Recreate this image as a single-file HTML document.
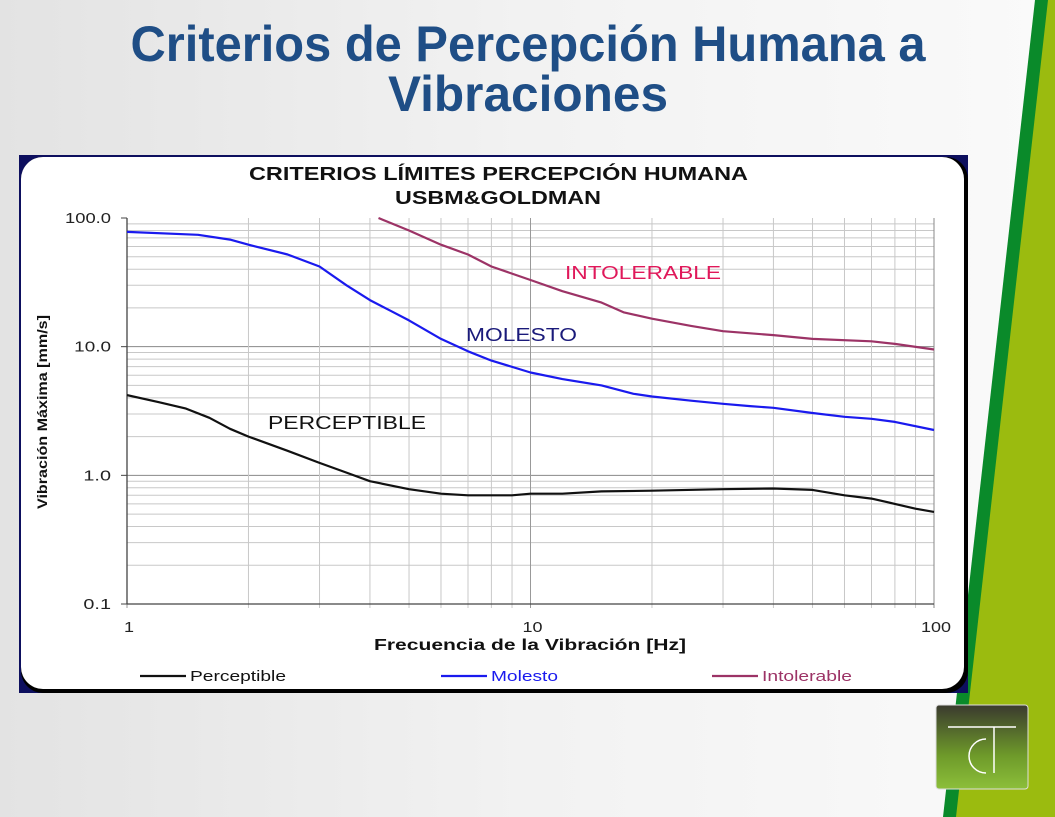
<!DOCTYPE html>
<html><head><meta charset="utf-8"><style>
html,body{margin:0;padding:0;width:1055px;height:817px;overflow:hidden;font-family:"Liberation Sans",sans-serif;}
body{background:linear-gradient(90deg,#e3e3e3 0%,#f2f2f2 50%,#fafafa 100%);}
</style></head><body>
<svg width="1055" height="817" viewBox="0 0 1055 817" xmlns="http://www.w3.org/2000/svg">
<polygon points="1035,0 1055,0 1055,817 943,817" fill="#0a8a2a"/>
<polygon points="1048,0 1055,0 1055,817 956,817" fill="#9bbb0f"/>
<g font-family="'Liberation Sans',sans-serif" font-weight="bold" font-size="50" fill="#1f4e86" text-anchor="middle">
<text x="528" y="61" textLength="795" lengthAdjust="spacingAndGlyphs">Criterios de Percepción Humana a</text>
<text x="528" y="111" textLength="280" lengthAdjust="spacingAndGlyphs">Vibraciones</text>
</g>
<rect x="19" y="155" width="949" height="538" fill="#0d0f5e"/>
<rect x="21" y="157" width="947" height="536" rx="22" fill="#000"/>
<rect x="21" y="157" width="943" height="532" rx="22" fill="#fff"/>
<g id="chart"></g>
<g>
<defs><linearGradient id="lg" x1="0" y1="0" x2="0" y2="1"><stop offset="0" stop-color="#3a3a2e"/><stop offset="0.6" stop-color="#6e9a2a"/><stop offset="1" stop-color="#8cbf3a"/></linearGradient></defs>
<rect x="936" y="705" width="92" height="84" rx="3" fill="url(#lg)" stroke="#ddd" stroke-width="1"/>
<line x1="948" y1="727" x2="1016" y2="727" stroke="#fff" stroke-width="1.5"/>
<line x1="994" y1="727" x2="994" y2="773" stroke="#fff" stroke-width="1.5"/>
<path d="M986,739 A17,17 0 1 0 986,773" fill="none" stroke="#fff" stroke-width="1.5"/>
</g>
</svg>
<script>
const yTicks=[0.1,1,10,100];
const yTickLabels=["0.1","1.0","10.0","100.0"];
const xTicks=[1,10,100];
const xTickLabels=["1","10","100"];
const percFreq=[1,1.2,1.4,1.6,1.8,2,2.5,3,3.5,4,5,6,7,9,10,12,15,20,30,40,50,60,70,80,90,100];
const percVal=[4.2,3.7,3.3,2.8,2.3,2.0,1.55,1.25,1.05,0.9,0.78,0.72,0.7,0.7,0.72,0.72,0.75,0.76,0.78,0.79,0.77,0.7,0.66,0.6,0.55,0.52];
const molFreq=[1,1.5,1.8,2,2.5,3,3.5,4,4.5,5,6,7,8,10,12,15,18,20,25,30,35,40,50,60,70,80,100];
const molVal=[78,74,68,62,52,42,30,23,19,16,11.5,9.2,7.8,6.3,5.6,5.0,4.3,4.1,3.8,3.6,3.45,3.35,3.05,2.85,2.75,2.6,2.25];
const intFreq=[4.2,5,6,7,8,10,12,15,17,20,25,30,40,50,70,80,100];
const intVal=[100,80,62,52,42,33,27,22,18.5,16.5,14.5,13.2,12.3,11.5,11,10.5,9.5];
const NS="http://www.w3.org/2000/svg";
const X0=127,X1=934,Y0=604,Y1=218;
function xs(f){return X0+(Math.log10(f)-0)/2*(X1-X0);}
function ys(v){return Y0-(Math.log10(v)+1)/3*(Y0-Y1);}
const g=document.getElementById('chart');
function mk(t,a,txt){const e=document.createElementNS(NS,t);for(const k in a)e.setAttribute(k,a[k]);if(txt!==undefined)e.textContent=txt;g.appendChild(e);return e;}
for(let d=-1;d<2;d++)for(let m=1;m<10;m++){const v=m*Math.pow(10,d);const y=ys(v);
const l=mk('line',{x1:X0,x2:X1,y1:y,y2:y,stroke:m===1?'#888':'#c8c8c8','stroke-width':1});

}
for(let d=0;d<2;d++)for(let m=1;m<10;m++){const f=m*Math.pow(10,d);const x=xs(f);
const l=mk('line',{x1:x,x2:x,y1:Y1,y2:Y0+4,stroke:m===1?'#999':'#c8c8c8','stroke-width':1});

}
mk('line',{x1:X1,x2:X1,y1:Y1,y2:Y0+4,stroke:'#888'});
mk('line',{x1:X0,x2:X0,y1:Y1,y2:Y0,stroke:'#444','stroke-width':1.3});
mk('line',{x1:X0,x2:X1,y1:Y0,y2:Y0,stroke:'#444','stroke-width':1.3});
yTicks.forEach((v,i)=>{const y=ys(v);mk('line',{x1:X0-6,x2:X0,y1:y,y2:y,stroke:'#444'});
const t=mk('text',{x:X0-16,y:y+5,'text-anchor':'end','font-size':15,fill:'#222',textLength:yTickLabels[i].length*9.2,lengthAdjust:'spacingAndGlyphs'},yTickLabels[i]);

});
xTicks.forEach((v,i)=>{const t=mk('text',{x:xs(v)+2,y:Y0+28,'text-anchor':'middle','font-size':15,fill:'#222',textLength:xTickLabels[i].length*10,lengthAdjust:'spacingAndGlyphs'},xTickLabels[i]);

});
function series(fr,vals,col,name){const d=fr.map((f,i)=>(i?'L':'M')+xs(f).toFixed(1)+','+ys(vals[i]).toFixed(1)).join(' ');
const p=mk('path',{d:d,fill:'none',stroke:col,'stroke-width':2.2,'stroke-linejoin':'round'});

}
series(percFreq,percVal,'#111','perceptible-line');
series(molFreq,molVal,'#1a1aee','molesto-line');
series(intFreq,intVal,'#9c3366','intolerable-line');
const txt=[["CRITERIOS LÍMITES PERCEPCIÓN HUMANA",249,180,18,'#111','bold','chart-title',499],
["USBM&GOLDMAN",395,204,18,'#111','bold','chart-subtitle',206],
["Frecuencia de la Vibración [Hz]",374,650,16,'#111','bold','x-axis-title',312],
["INTOLERABLE",565,279,18,'#e0185a','normal','intolerable-annotation',156],
["MOLESTO",466,341,18,'#1a1a7a','normal','molesto-annotation',111],
["PERCEPTIBLE",268,429,18,'#111','normal','perceptible-annotation',158]];
txt.forEach(a=>{const t=mk('text',{x:a[1],y:a[2],'font-size':a[3],fill:a[4],'font-weight':a[5],textLength:a[7],lengthAdjust:'spacingAndGlyphs'},a[0]);

});
const yt=mk('text',{x:0,y:0,transform:'translate(47,412) rotate(-90)','text-anchor':'middle','font-size':14,'font-weight':'bold',fill:'#111',textLength:194,lengthAdjust:'spacingAndGlyphs'},'Vibración Máxima [mm/s]');


const leg=[["Perceptible",140,'#111','#111',96],["Molesto",441,'#1a1aee','#1a1aee',67],["Intolerable",712,'#9c3366','#9c3366',90]];
leg.forEach(a=>{mk('line',{x1:a[1],x2:a[1]+46,y1:676,y2:676,stroke:a[2],'stroke-width':2.2});
const t=mk('text',{x:a[1]+50,y:681,'font-size':15,fill:a[3],textLength:a[4],lengthAdjust:'spacingAndGlyphs'},a[0]);

});
</script>
</body></html>
